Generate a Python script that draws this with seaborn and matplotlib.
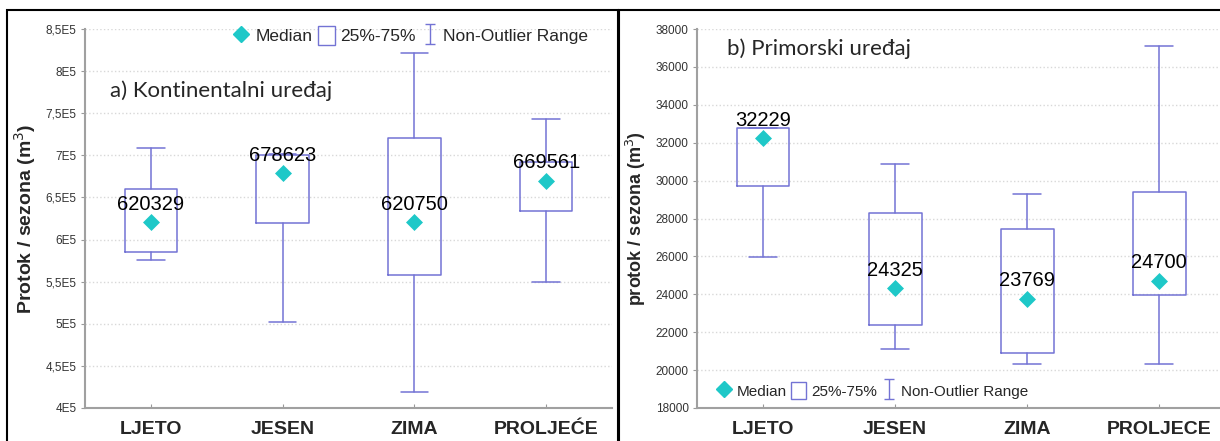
import numpy as np
import pandas as pd
import seaborn as sns
import matplotlib.pyplot as plt
from matplotlib.lines import Line2D
from matplotlib.patches import Patch, Rectangle
from matplotlib.path import Path
from matplotlib.ticker import FuncFormatter

# Values
sezone_a = ["LJETO", "JESEN", "ZIMA", "PROLJEĆE"]
a_median = [620329, 678623, 620750, 669561]
a_q1 = [585000, 620000, 558000, 634000]
a_q3 = [660000, 700000, 720000, 692000]
a_min = [575700, 502000, 419000, 550000]
a_max = [708700, 701000, 821000, 743000]

sezone_b = ["LJETO", "JESEN", "ZIMA", "PROLJECE"]
b_median = [32229, 24325, 23769, 24700]
b_q1 = [29700, 22380, 20920, 23950]
b_q3 = [32800, 28300, 27460, 29410]
b_min = [25970, 21110, 20310, 20310]
b_max = [32800, 30860, 29290, 37100]

BOX = "#7373d4"
MED = "#1ec8c8"

sns.set_style("whitegrid")
plt.rcParams['font.family'] = ['Liberation Sans', 'DejaVu Sans']

fig = plt.figure(figsize=(12.2, 4.41), dpi=100)
W, H = 1220, 441

# panel frames (the two source images side by side)
fig.add_artist(Rectangle((7 / W, -0.1), (618 - 7) / W, 1.1 - 10 / H,
                         transform=fig.transFigure, fill=False, lw=1.5, ec="black"))
fig.add_artist(Rectangle((619 / W, -0.1), (1230 - 619) / W, 1.1 - 10 / H,
                         transform=fig.transFigure, fill=False, lw=1.5, ec="black"))

ax1 = fig.add_axes([85 / W, (H - 408) / H, (612 - 85) / W, (408 - 29) / H])
ax2 = fig.add_axes([697 / W, (H - 408) / H, (1220 - 697) / W, (408 - 29) / H])

# whisker-like legend marker
iw = Path([(-0.5, 1), (0.5, 1), (0, 1), (0, -1), (-0.5, -1), (0.5, -1)],
          [Path.MOVETO, Path.LINETO, Path.MOVETO, Path.LINETO, Path.MOVETO, Path.LINETO])


def draw(ax, sezone, med, q1, q3, lo, hi, ylim, ystep, fmt, ylabel, ylfs, ylx,
         title, tx, ty, legfs, leg, xmax):
    stats = []
    for i in range(len(sezone)):
        stats.append(dict(med=med[i], q1=q1[i], q3=q3[i], whislo=lo[i], whishi=hi[i], fliers=[]))
    ax.bxp(stats, positions=range(len(sezone)), widths=0.4, showfliers=False,
           boxprops=dict(color=BOX, lw=1.1), whiskerprops=dict(color=BOX, lw=1.1),
           capprops=dict(color=BOX, lw=1.1), medianprops=dict(visible=False),
           capwidths=0.21, patch_artist=False)
    df = pd.DataFrame({"sezona": range(len(sezone)), "median": med})
    sns.scatterplot(data=df, x="sezona", y="median", marker="D", s=75, color=MED,
                    edgecolor=MED, linewidth=0, ax=ax, zorder=5, legend=False)
    for i, m in enumerate(med):
        ax.annotate(str(m), (i, m), xytext=(0, 13), textcoords="offset points",
                    ha="center", va="center", fontsize=14.5, color="black", zorder=6)
    ax.set_xlim(-0.5, xmax)
    ax.set_ylim(*ylim)
    ax.set_yticks(np.arange(ylim[0], ylim[1] + ystep / 2, ystep))
    ax.yaxis.set_major_formatter(FuncFormatter(fmt))
    ax.set_xticks(range(len(sezone)))
    ax.set_xticklabels(sezone, fontsize=14, fontweight="bold")
    ax.set_xlabel("")
    ax.set_ylabel(ylabel, fontsize=ylfs, fontweight="bold")
    ax.yaxis.set_label_coords(ylx, 0.5)
    ax.tick_params(axis="y", labelsize=8.5, labelcolor="#333333", left=True, length=3,
                   color="#999999", pad=3)
    ax.tick_params(axis="x", bottom=True, direction="in", length=3, color="#999999", pad=9)
    ax.grid(axis="x", visible=False)
    ax.grid(axis="y", color="#d8d8d8", linestyle=":", lw=1)
    for s in ["top", "right"]:
        ax.spines[s].set_visible(False)
    for s in ["left", "bottom"]:
        ax.spines[s].set_color("#a0a0a0")
        ax.spines[s].set_linewidth(1.5)
    ax.text(tx, ty, title, transform=ax.transAxes, fontsize=16, family="Lato",
            ha="left", va="center")
    handles = [Line2D([], [], marker="D", ls="", color=MED, markersize=8, mec=MED),
               Patch(facecolor="white", edgecolor=BOX, lw=1),
               Line2D([], [], marker=iw, ls="", color=BOX, markersize=14, mfc="none", mew=1)]
    labels = ["Median", "25%-75%", "Non-Outlier Range"]
    ax.legend(handles, labels, ncol=3, frameon=False, fontsize=legfs,
              handlelength=1.0, handleheight=1.3, handletextpad=0.3, columnspacing=0.3,
              borderpad=0.1, **leg)


def fmt_a(v, pos):
    s = "%g" % (v / 1e5)
    return s.replace(".", ",") + "E5"


def fmt_b(v, pos):
    return "%d" % v


draw(ax1, sezone_a, a_median, a_q1, a_q3, a_min, a_max, (400000, 850000), 50000, fmt_a,
     "Protok / sezona (m$^3$)", 14, -0.09, "a) Kontinentalni uređaj", 0.047, 0.836,
     12.5, dict(loc="upper right", bbox_to_anchor=(0.975, 1.035)), 3.5)
draw(ax2, sezone_b, b_median, b_q1, b_q3, b_min, b_max, (18000, 38000), 2000, fmt_b,
     "protok / sezona (m$^3$)", 13, -0.094, "b) Primorski uređaj", 0.057, 0.947,
     11, dict(loc="lower left", bbox_to_anchor=(0.02, 0.0)), 3.46)

fig.savefig("out.png", dpi=100)
